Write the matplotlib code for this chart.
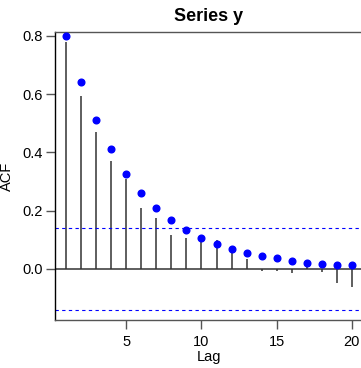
import matplotlib
matplotlib.use("Agg")
import matplotlib.pyplot as plt
import numpy as np

# lags and values
lags = list(range(1, 21))
acf_points = [0.800, 0.640, 0.512, 0.410, 0.327, 0.262, 0.209, 0.169, 0.135, 0.108,
              0.086, 0.069, 0.055, 0.045, 0.036, 0.027, 0.022, 0.018, 0.015, 0.013]
acf_sample = [0.778, 0.594, 0.471, 0.372, 0.309, 0.209, 0.176, 0.117, 0.108, 0.100,
              0.101, 0.060, 0.034, -0.008, -0.006, -0.015, 0.007, -0.010, -0.048, -0.063]
conf_band = 0.139
x_ticks = [5, 10, 15, 20]
y_ticks = [0.0, 0.2, 0.4, 0.6, 0.8]

plt.rcParams['font.family'] = ['Liberation Sans', 'DejaVu Sans']

fig = plt.figure(figsize=(3.61, 3.68), dpi=100)
ax = fig.add_axes([55 / 361, 48 / 368, 308 / 361, 288 / 368])

ax.vlines(lags, 0, acf_sample, colors='#333333', linewidth=1.1)
ax.axhline(0, color='#333333', linewidth=1.1)
ax.axhline(conf_band, color='#0000ff', linestyle=(0, (3, 3)), linewidth=0.8)
ax.axhline(-conf_band, color='#0000ff', linestyle=(0, (3, 3)), linewidth=0.8)
ax.plot(lags, acf_points, 'o', color='#0000ff', markersize=4.8, zorder=3)

ax.set_xlim(0.24, 20.76)
ax.set_ylim(-0.175, 0.813)
ax.set_xticks(x_ticks)
ax.set_yticks(y_ticks)
ax.set_yticklabels(["{:.1f}".format(v) for v in y_ticks])

ax.tick_params(axis='both', direction='out', length=6.5, width=1, color='#555555',
               labelsize=10.5, pad=2)
ax.tick_params(axis='x', pad=4)
for s in ax.spines.values():
    s.set_linewidth(1)
    s.set_color('#555555')
ax.spines['left'].set_color('black')

ax.set_title("Series y", fontsize=13, fontweight='bold', pad=8)
ax.set_xlabel("Lag", fontsize=10.5, labelpad=1)
ax.set_ylabel("ACF", fontsize=10.5)
ax.yaxis.set_label_coords(-0.133, 0.5)

fig.savefig("out.png", dpi=100)
